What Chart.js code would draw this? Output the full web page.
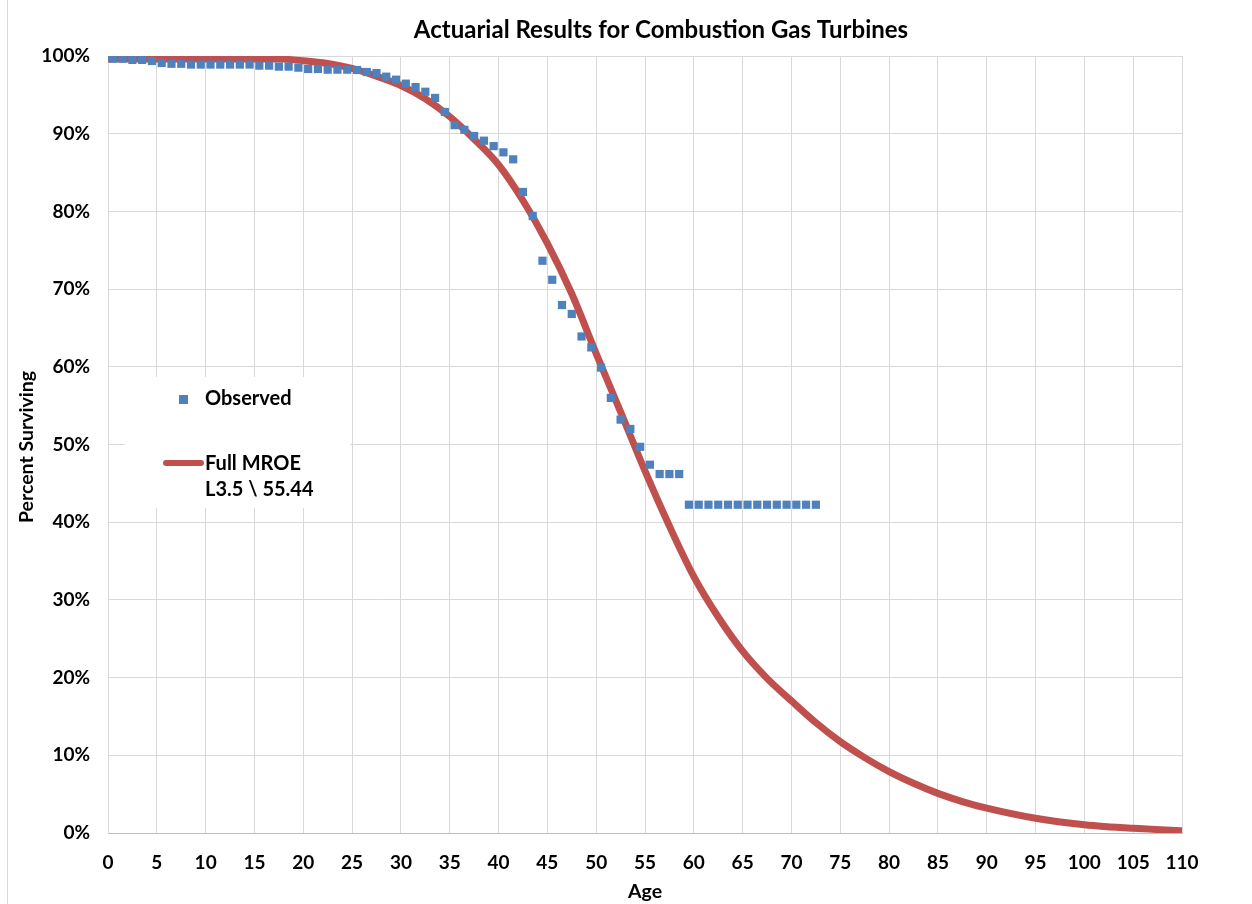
<!DOCTYPE html>
<html>
<head>
<meta charset="utf-8">
<title>Actuarial Results for Combustion Gas Turbines</title>
<script src="https://cdn.jsdelivr.net/npm/chart.js@4.4.1/dist/chart.umd.min.js"></script>
<style>
  html, body { margin: 0; padding: 0; background: #fff; }
  #wrap { width: 1252px; height: 904px; position: relative; }
</style>
</head>
<body>
<div id="wrap"><canvas id="chart" width="1252" height="904"></canvas></div>
<script>
// --- datos ---
const obsAges = [0, 0.5, 1.5, 2.5, 3.5, 4.5, 5.5, 6.5, 7.5, 8.5, 9.5, 10.5, 11.5, 12.5, 13.5, 14.5,
  15.5, 16.5, 17.5, 18.5, 19.5, 20.5, 21.5, 22.5, 23.5, 24.5, 25.5, 26.5, 27.5, 28.5, 29.5,
  30.5, 31.5, 32.5, 33.5, 34.5, 35.5, 36.5, 37.5, 38.5, 39.5, 40.5, 41.5, 42.5, 43.5, 44.5,
  45.5, 46.5, 47.5, 48.5, 49.5, 50.5, 51.5, 52.5, 53.5, 54.5, 55.5, 56.5, 57.5, 58.5,
  59.5, 60.5, 61.5, 62.5, 63.5, 64.5, 65.5, 66.5, 67.5, 68.5, 69.5, 70.5, 71.5, 72.5];
const obsPct = [100, 99.66, 99.66, 99.5, 99.5, 99.36, 99.1, 99.0, 99.0, 98.9, 98.9, 98.9, 98.9, 98.9, 98.9, 98.9,
  98.76, 98.76, 98.63, 98.63, 98.5, 98.33, 98.33, 98.24, 98.24, 98.24, 98.2, 97.94, 97.8, 97.34, 96.95,
  96.44, 96.0, 95.4, 94.6, 92.8, 91.1, 90.5, 89.7, 89.1, 88.4, 87.6, 86.7, 82.5, 79.4, 73.65,
  71.2, 67.95, 66.8, 63.9, 62.5, 59.9, 56.0, 53.2, 52.0, 49.7, 47.4, 46.2, 46.2, 46.2,
  42.25, 42.25, 42.25, 42.25, 42.25, 42.25, 42.25, 42.25, 42.25, 42.25, 42.25, 42.25, 42.25, 42.25];

// curva ajustada (Full MROE L3.5 \ 55.44)
const fitAges = [0, 5, 10, 15, 17.5, 20, 22.5, 25, 27.5, 30, 32.5, 35, 37.5, 40, 42.5, 45, 47.5, 50,
  52.5, 55, 57.5, 60, 62.5, 65, 67.5, 70, 72.5, 75, 77.5, 80, 82.5, 85, 87.5, 90, 95, 100, 105, 110];
const fitPct = [99.6, 99.6, 99.6, 99.6, 99.6, 99.4, 99.05, 98.4, 97.4, 96.2, 94.5, 92.2, 89.3, 86.0, 81.4, 75.9, 69.4, 61.7,
  54.2, 46.6, 39.5, 33.0, 27.8, 23.4, 19.9, 17.0, 14.2, 11.75, 9.7, 7.9, 6.4, 5.1, 4.05, 3.2, 1.9, 1.07, 0.6, 0.3];

const xTicksStep = 5;
const yTicksStep = 10;

const FONT = "Lato, 'Open Sans', sans-serif";
const BLUE = '#4F81BD';
const RED = '#C0504D';

// textos, leyenda y marco
const extrasPlugin = {
  id: 'extras',
  afterDraw(chart) {
    const ctx = chart.ctx;
    ctx.save();
    // marco izquierdo tenue
    ctx.strokeStyle = '#D9D9D9';
    ctx.lineWidth = 1;
    ctx.beginPath();
    ctx.moveTo(7.5, 0); ctx.lineTo(7.5, 904);
    ctx.stroke();

    ctx.fillStyle = '#000';
    ctx.textBaseline = 'middle';
    ctx.textAlign = 'center';
    ctx.font = 'bold 24px ' + FONT;
    ctx.fillText('Actuarial Results for Combustion Gas Turbines', 661, 30);

    ctx.font = 'bold 19.5px ' + FONT;
    ctx.fillText('Age', 645, 892);

    ctx.save();
    ctx.translate(27, 447);
    ctx.rotate(-Math.PI / 2);
    ctx.fillText('Percent Surviving', 0, 0);
    ctx.restore();

    // leyenda
    ctx.fillStyle = '#fff';
    ctx.fillRect(125, 377, 225, 131);
    ctx.fillStyle = BLUE;
    ctx.fillRect(179, 395, 9, 9);
    ctx.strokeStyle = RED;
    ctx.lineWidth = 6;
    ctx.lineCap = 'round';
    ctx.beginPath();
    ctx.moveTo(166, 463); ctx.lineTo(201, 463);
    ctx.stroke();

    ctx.fillStyle = '#000';
    ctx.textAlign = 'left';
    ctx.font = 'bold 20px ' + FONT;
    ctx.fillText('Observed', 205, 399);
    ctx.fillText('Full MROE', 205, 464);
    ctx.fillText('L3.5 \\ 55.44', 205, 490);
    ctx.restore();
  }
};

const ctx = document.getElementById('chart').getContext('2d');
new Chart(ctx, {
  type: 'scatter',
  data: {
    datasets: [
      {
        label: 'Observed',
        data: obsAges.map((a, i) => ({ x: a, y: obsPct[i] })),
        pointStyle: 'rect',
        pointRadius: 5.8,
        backgroundColor: BLUE,
        borderWidth: 0,
        showLine: false,
        order: 0
      },
      {
        label: 'Full MROE',
        data: fitAges.map((a, i) => ({ x: a, y: fitPct[i] })),
        showLine: true,
        borderColor: RED,
        borderWidth: 7,
        borderCapStyle: 'round',
        cubicInterpolationMode: 'monotone',
        pointRadius: 0,
        order: 1
      }
    ]
  },
  options: {
    responsive: false,
    animation: false,
    devicePixelRatio: 1,
    layout: { padding: { left: 0, top: 56, right: 70, bottom: 0 } },
    plugins: {
      legend: { display: false },
      tooltip: { enabled: false },
      title: { display: false }
    },
    scales: {
      x: {
        type: 'linear',
        min: 0,
        max: 110,
        afterFit: (s) => { s.height = 71; },
        ticks: {
          stepSize: xTicksStep,
          color: '#000',
          font: { family: FONT, size: 19, weight: 'bold' },
          padding: 18,
          maxRotation: 0
        },
        grid: { color: '#D9D9D9', lineWidth: 1, drawTicks: false },
        border: { color: '#BFBFBF', width: 1 }
      },
      y: {
        min: 0,
        max: 100,
        afterFit: (s) => { s.width = 108; },
        ticks: {
          stepSize: yTicksStep,
          color: '#000',
          font: { family: FONT, size: 19, weight: 'bold' },
          padding: 18,
          callback: (v) => v + '%'
        },
        grid: { color: '#D9D9D9', lineWidth: 1, drawTicks: false },
        border: { color: '#D9D9D9', width: 1 }
      }
    }
  },
  plugins: [extrasPlugin]
});
</script>
</body>
</html>
